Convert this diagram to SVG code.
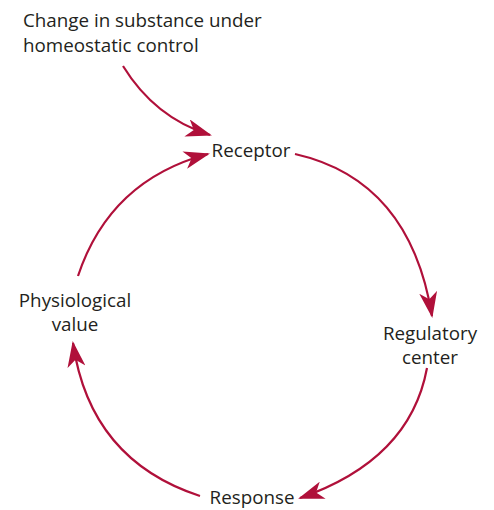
<svg xmlns="http://www.w3.org/2000/svg" width="494" height="510" viewBox="0 0 494 510">
<style>
text{font-family:"Open Sans","Noto Sans",sans-serif;font-size:18.8px;fill:#231f20}
.c{fill:none;stroke:#b0103a;stroke-width:2.2}
</style>
<defs>
<marker id="a" viewBox="0 0 26 18" refX="24" refY="9" markerWidth="26" markerHeight="18" markerUnits="userSpaceOnUse" orient="auto">
<path d="M0,0 L26,9 L0,18 L7,9 Z" fill="#b0103a"/>
</marker>
</defs>
<rect width="494" height="510" fill="#fff"/>
<g id="connectors">
<path class="c" d="M123,66 Q155,118 210,135" marker-end="url(#a)"/>
<path class="c" d="M78,276 Q110,180 208,154" marker-end="url(#a)"/>
<path class="c" d="M295,154 Q410,180 432,316" marker-end="url(#a)"/>
<path class="c" d="M427,368 Q410,460 300,498" marker-end="url(#a)"/>
<path class="c" d="M200,496 Q90,460 73,343" marker-end="url(#a)"/>
</g>
<g id="input"><text x="23" y="27">Change in substance under</text><text x="23" y="52">homeostatic control</text></g>
<g id="receptor"><text x="251" y="157" text-anchor="middle">Receptor</text></g>
<g id="regulatory"><text x="430" y="340" text-anchor="middle">Regulatory</text><text x="430" y="364" text-anchor="middle">center</text></g>
<g id="physio"><text x="75" y="307" text-anchor="middle">Physiological</text><text x="75" y="331" text-anchor="middle">value</text></g>
<g id="response"><text x="252" y="504" text-anchor="middle">Response</text></g>
</svg>
